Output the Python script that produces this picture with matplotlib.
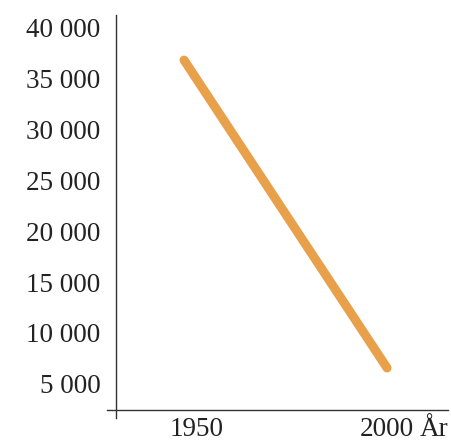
import matplotlib
matplotlib.use("Agg")
import matplotlib.pyplot as plt
import matplotlib.transforms as mtransforms
from matplotlib.ticker import FuncFormatter

years = [1950, 2000]
values = [36760, 6570]
yticks = [5000, 10000, 15000, 20000, 25000, 30000, 35000, 40000]
xticks = [1950, 2000]
x_unit = "År"

plt.rcParams['font.family'] = ['Liberation Serif', 'DejaVu Serif']

fig = plt.figure(figsize=(4.52, 4.43), dpi=100)
ax = fig.add_axes([116/452, 1 - 410/443, (448-116)/452, (410-15)/443])

ax.plot(years, values, color='#E8A04A', lw=6.5, solid_capstyle='round')

ax.set_xlim(1933.25, 2015.0)
ax.set_ylim(2450, 41180)
ax.set_yticks(yticks)
ax.set_xticks(xticks)
ax.yaxis.set_major_formatter(FuncFormatter(lambda v, p: f"{int(v):,}".replace(",", " ")))
ax.tick_params(axis='both', length=0, labelsize=19.5, colors='#222222')
ax.tick_params(axis='y', pad=11)
ax.tick_params(axis='x', pad=5)
for s in ax.spines.values():
    s.set_visible(False)

# nudge the 1950 label slightly right, as in the reference
lab = ax.get_xticklabels()[0]
lab.set_transform(lab.get_transform() + mtransforms.ScaledTranslation(13/100, 0, fig.dpi_scale_trans))

# axis lines
ax.plot([0, 0], [-0.02, 1.0], transform=ax.transAxes, color='#333333', lw=1.0, clip_on=False)
ax.plot([-0.027, 1.0], [0, 0], transform=ax.transAxes, color='#333333', lw=1.0, clip_on=False)

ax.annotate(x_unit, xy=(1.0, 0.0), xycoords='axes fraction', xytext=(0, -5),
            textcoords='offset points', ha='right', va='top',
            fontsize=19.5, color='#222222')

fig.savefig("out.png", dpi=100)
